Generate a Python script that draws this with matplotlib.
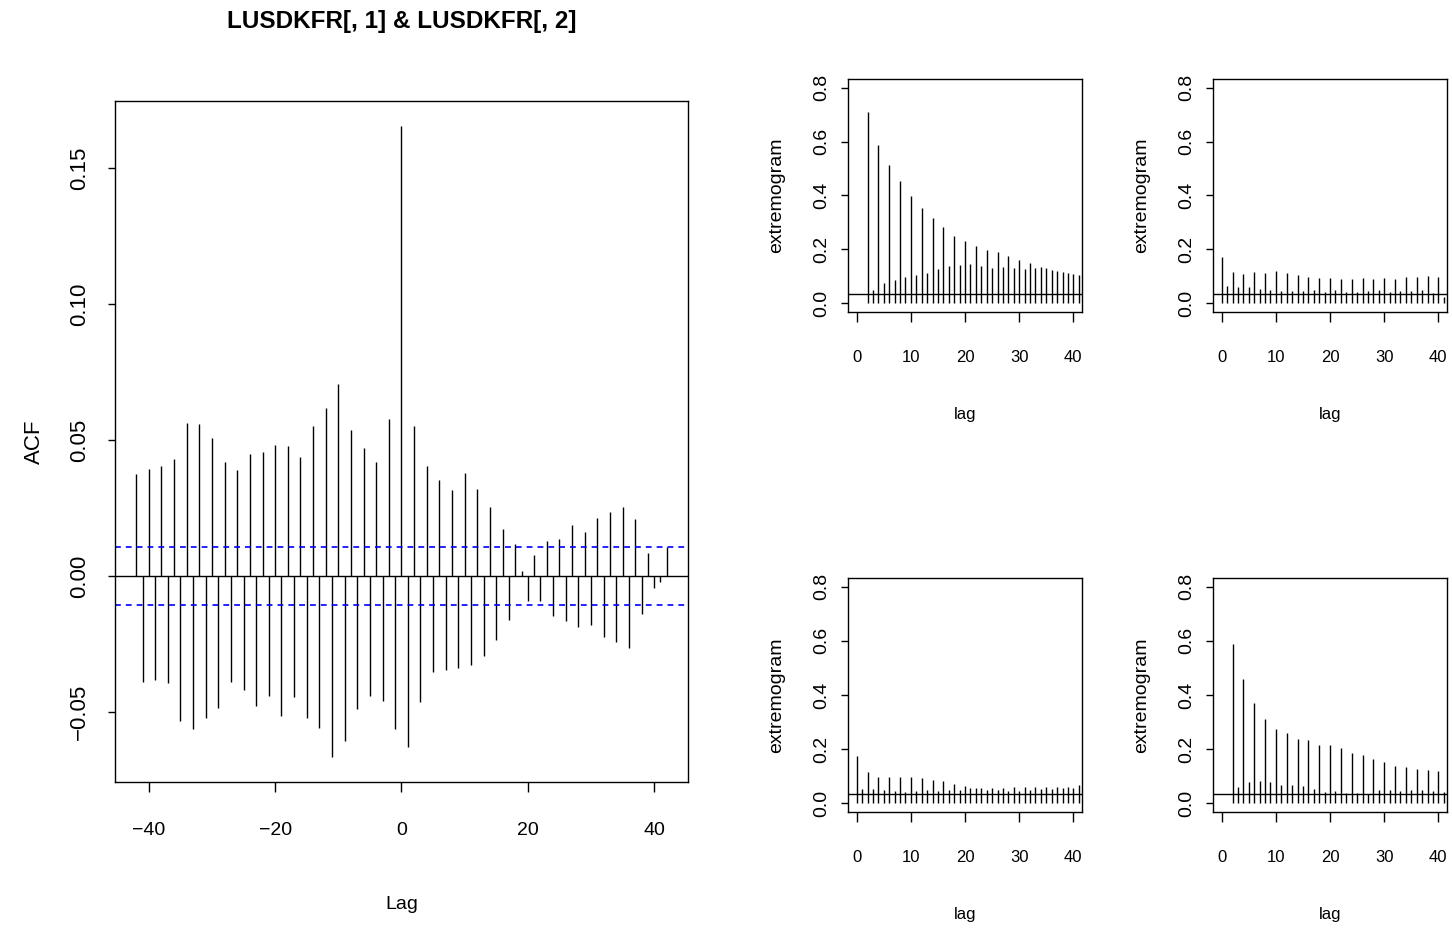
import matplotlib
matplotlib.use("Agg")
import matplotlib.pyplot as plt

plt.rcParams['font.family'] = ['Liberation Sans', 'DejaVu Sans']

# cross-correlation of LUSDKFR[, 1] and LUSDKFR[, 2]
ccf_lags = list(range(-42, 43))
ccf_vals = [
    0.0375, -0.0391, 0.0393, -0.0382, 0.0403, -0.0393, 0.0429, -0.0533, 0.0564, -0.0561,
    0.0558, -0.0523, 0.0508, -0.0484, 0.0419, -0.0390, 0.0391, -0.0419, 0.0447, -0.0477,
    0.0456, -0.0441, 0.0482, -0.0515, 0.0477, -0.0446, 0.0436, -0.0520, 0.0553, -0.0559,
    0.0617, -0.0664, 0.0704, -0.0607, 0.0535, -0.0487, 0.0469, -0.0442, 0.0419, -0.0459,
    0.0579, -0.0561, 0.1653, -0.0628, 0.0553, -0.0462, 0.0403, -0.0354, 0.0354, -0.0344,
    0.0316, -0.0336, 0.0377, -0.0327, 0.0321, -0.0293, 0.0255, -0.0235, 0.0174, -0.0161,
    0.0118, 0.0020, -0.0090, 0.0077, -0.0090, 0.0130, -0.0148, 0.0138, -0.0164, 0.0188,
    -0.0186, 0.0163, -0.0178, 0.0214, -0.0225, 0.0234, -0.0242, 0.0252, -0.0263, 0.0211,
    -0.0141, 0.0084, -0.0043, -0.0021, 0.0107,
]
ccf_ci = 0.0105

# extremograms (2x2 panels)
lags_from1 = list(range(1, 42))
lags_from0 = list(range(0, 42))
ext_11 = [
    0.002, 0.709, 0.050, 0.588, 0.076, 0.514, 0.087, 0.452, 0.098, 0.397,
    0.105, 0.354, 0.114, 0.315, 0.127, 0.283, 0.137, 0.251, 0.142, 0.232,
    0.145, 0.214, 0.140, 0.197, 0.133, 0.189, 0.135, 0.176, 0.133, 0.162,
    0.129, 0.150, 0.130, 0.134, 0.130, 0.125, 0.119, 0.116, 0.111, 0.108, 0.107,
]
ext_12 = [
    0.173, 0.064, 0.118, 0.061, 0.108, 0.059, 0.118, 0.054, 0.113, 0.049,
    0.119, 0.045, 0.111, 0.045, 0.107, 0.045, 0.098, 0.049, 0.093, 0.043,
    0.093, 0.049, 0.092, 0.043, 0.089, 0.043, 0.093, 0.047, 0.089, 0.049,
    0.093, 0.043, 0.089, 0.045, 0.096, 0.045, 0.099, 0.049, 0.103, 0.039,
    0.096, 0.025,
]
ext_21 = [
    0.175, 0.053, 0.115, 0.053, 0.098, 0.050, 0.098, 0.045, 0.098, 0.043,
    0.096, 0.045, 0.093, 0.049, 0.085, 0.047, 0.081, 0.049, 0.071, 0.051,
    0.064, 0.056, 0.055, 0.055, 0.049, 0.056, 0.049, 0.058, 0.045, 0.059,
    0.045, 0.060, 0.049, 0.061, 0.053, 0.061, 0.054, 0.062, 0.056, 0.059,
    0.058, 0.067,
]
ext_22 = [
    0.002, 0.590, 0.062, 0.459, 0.077, 0.370, 0.084, 0.311, 0.078, 0.273,
    0.068, 0.261, 0.066, 0.239, 0.063, 0.232, 0.054, 0.217, 0.043, 0.216,
    0.044, 0.206, 0.038, 0.187, 0.038, 0.177, 0.036, 0.162, 0.051, 0.151,
    0.048, 0.139, 0.045, 0.135, 0.050, 0.126, 0.048, 0.124, 0.045, 0.120, 0.042,
]
ext_level = 0.035

W, H = 1452, 932


def px_axes(fig, x0, y0, x1, y1):
    # box given in image pixels (top-left origin)
    return fig.add_axes([x0 / W, 1 - y1 / H, (x1 - x0) / W, (y1 - y0) / H])


def r_style(ax, xsize, ysize, xpad, ypad):
    for s in ax.spines.values():
        s.set_linewidth(1.0)
    ax.tick_params(axis='x', direction='out', length=7, width=1.0, pad=xpad, labelsize=xsize)
    ax.tick_params(axis='y', direction='out', length=5, width=1.0, pad=ypad, labelsize=ysize)
    for lab in ax.get_yticklabels():
        lab.set_rotation(90)
        lab.set_va('center')


fig = plt.figure(figsize=(W / 100, H / 100), dpi=100)

# ---- left: cross correlation ----
ax = px_axes(fig, 115, 101, 688, 782)
ax.vlines(ccf_lags, 0, ccf_vals, color='black', linewidth=1.0)
ax.axhline(0, color='black', linewidth=1.0)
ax.axhline(ccf_ci, color='#0000ff', linestyle=(0, (3.5, 3)), linewidth=1.2)
ax.axhline(-ccf_ci, color='#0000ff', linestyle=(0, (3.5, 3)), linewidth=1.2)
xr = max(ccf_lags) - min(ccf_lags)
yr = max(ccf_vals) - min(ccf_vals)
ax.set_xlim(min(ccf_lags) - 0.04 * xr, max(ccf_lags) + 0.04 * xr)
ax.set_ylim(min(ccf_vals) - 0.04 * yr, max(ccf_vals) + 0.04 * yr)
ax.set_xticks([-40, -20, 0, 20, 40])
ax.set_yticks([-0.05, 0.0, 0.05, 0.10, 0.15])
ax.set_yticklabels(['\u22120.05', '0.00', '0.05', '0.10', '0.15'])
r_style(ax, 14, 16, 22, 13)
ax.text(0.5, -0.18, 'Lag', transform=ax.transAxes, ha='center', va='center', fontsize=14)
ax.text(-0.14, 0.5, 'ACF', transform=ax.transAxes, ha='center', va='center',
        rotation=90, fontsize=16)
ax.text(0.5, 1.0 + 79 / 681, 'LUSDKFR[, 1] & LUSDKFR[, 2]', transform=ax.transAxes,
        ha='center', va='center', fontsize=17.5, fontweight='bold')

# ---- right: extremogram panels ----
panels = [
    ((848, 79, 1082, 312), lags_from1, ext_11),
    ((1213, 79, 1447, 312), lags_from0, ext_12),
    ((848, 578, 1082, 812), lags_from0, ext_21),
    ((1213, 578, 1447, 812), lags_from1, ext_22),
]
for box, lags, vals in panels:
    a = px_axes(fig, *box)
    a.vlines(lags, 0, vals, color='black', linewidth=1.0)
    a.axhline(ext_level, color='black', linewidth=1.0)
    a.set_xlim(-1.6, 41.6)
    a.set_ylim(-0.032, 0.832)
    a.set_xticks([0, 10, 20, 30, 40])
    a.set_yticks([0.0, 0.2, 0.4, 0.6, 0.8])
    a.set_yticklabels(['0.0', '0.2', '0.4', '0.6', '0.8'])
    r_style(a, 12, 14, 20, 8)
    h = box[3] - box[1]
    w = box[2] - box[0]
    a.text(0.5, -103 / h, 'lag', transform=a.transAxes, ha='center', va='center', fontsize=12)
    a.text(-71 / w, 0.5, 'extremogram', transform=a.transAxes, ha='center', va='center',
           rotation=90, fontsize=14)

fig.savefig('out.png', dpi=100)
